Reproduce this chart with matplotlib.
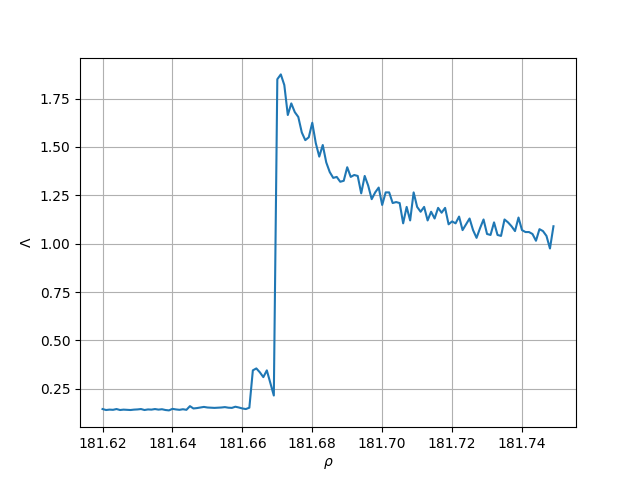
import numpy as np
import matplotlib
matplotlib.use("Agg")
import matplotlib.pyplot as plt

# values, one per step of 0.001 from 181.620
x_start = 181.620
x_step = 0.001

low = [0.145, 0.140, 0.142, 0.141, 0.145, 0.140, 0.142, 0.141, 0.140, 0.142,
       0.143, 0.145, 0.140, 0.143, 0.142, 0.145, 0.142, 0.144, 0.140, 0.138,
       0.146, 0.143, 0.141, 0.144, 0.141, 0.160, 0.148, 0.150, 0.153, 0.156,
       0.153, 0.152, 0.151, 0.152, 0.153, 0.155, 0.152, 0.151, 0.157, 0.153,
       0.148, 0.145, 0.152]
jump = [0.345, 0.355, 0.335, 0.310, 0.345, 0.280, 0.215]
high = [1.850, 1.875, 1.820, 1.665, 1.725, 1.680, 1.655, 1.575, 1.535, 1.550,
        1.625, 1.520, 1.450, 1.510, 1.420, 1.370, 1.340, 1.345, 1.320, 1.325,
        1.395, 1.345, 1.355, 1.350, 1.260, 1.350, 1.300, 1.230, 1.265, 1.290,
        1.200, 1.265, 1.265, 1.210, 1.215, 1.210, 1.105, 1.190, 1.120, 1.265,
        1.190, 1.165, 1.190, 1.120, 1.165, 1.130, 1.185, 1.160, 1.185, 1.100,
        1.115, 1.105, 1.140, 1.070, 1.100, 1.130, 1.070, 1.030, 1.080, 1.125,
        1.050, 1.045, 1.110, 1.045, 1.040, 1.125, 1.110, 1.090, 1.065, 1.135,
        1.070, 1.060, 1.060, 1.050, 1.015, 1.075, 1.065, 1.040, 0.975, 1.090]

lam = np.array(low + jump + high)
rho = x_start + x_step * np.arange(len(lam))

fig, ax = plt.subplots(figsize=(6.4, 4.8), dpi=100)
ax.plot(rho, lam)
ax.grid(True)
ax.set_xlabel(r'$\rho$')
ax.set_ylabel(r'$\Lambda$')
fig.savefig('out.png')
